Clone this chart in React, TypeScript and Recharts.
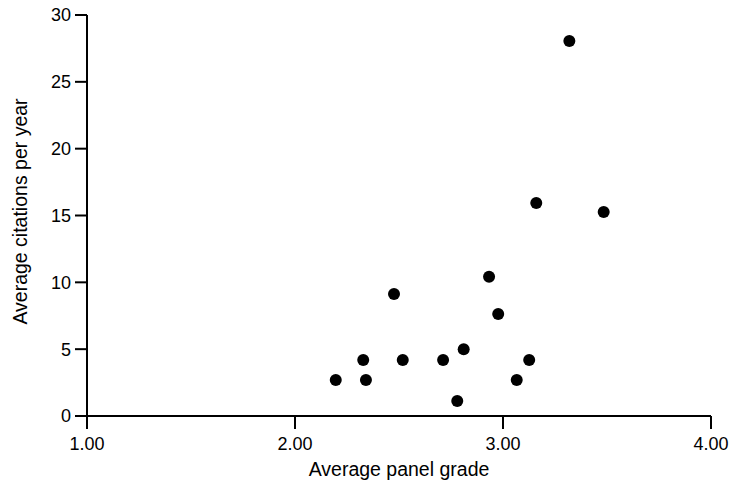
import { ScatterChart, Scatter, XAxis, YAxis, Label } from 'recharts'

// panel grade vs citations
const panelGrade = [2.196, 2.328, 2.341, 2.476, 2.518, 2.712, 2.78, 2.811, 2.933, 2.977, 3.066, 3.126, 3.16, 3.319, 3.484]
const citations = [2.69, 4.19, 2.69, 9.13, 4.19, 4.19, 1.12, 4.99, 10.42, 7.63, 2.69, 4.19, 15.94, 28.05, 15.26]

const xTicks = [1, 2, 3, 4]
const yTicks = [0, 5, 10, 15, 20, 25, 30]

const points = panelGrade.map((g, i) => ({ grade: g, cites: citations[i] }))

const FONT = '"Liberation Sans", Arial, sans-serif'

const Dot = (props: { cx?: number; cy?: number }) => {
  if (props.cx === undefined || props.cy === undefined) return null
  return <circle cx={props.cx} cy={props.cy} r={6} fill="#000" />
}

export default function App() {
  return (
    <div style={{ position: 'absolute', left: 0, top: 0, width: 729, height: 481, background: '#fff' }}>
      <ScatterChart
        width={729}
        height={481}
        margin={{ top: 15, right: 18, bottom: 0, left: 0 }}
        style={{ fontFamily: FONT }}
      >
        <XAxis
          type="number"
          dataKey="grade"
          domain={[1, 4]}
          ticks={xTicks}
          tickFormatter={(v: number) => v.toFixed(2)}
          height={65}
          tickSize={13}
          tickMargin={8}
          tick={{ fill: '#000', fontSize: 18 }}
          tickLine={{ stroke: '#000', strokeWidth: 2 }}
          axisLine={{ stroke: '#000', strokeWidth: 2 }}
        >
          <Label value="Average panel grade" position="insideBottom" offset={5} fill="#000" fontSize={19.5} />
        </XAxis>
        <YAxis
          type="number"
          dataKey="cites"
          domain={[0, 30]}
          ticks={yTicks}
          width={87}
          tickSize={12}
          tickMargin={4}
          tick={{ fill: '#000', fontSize: 18 }}
          tickLine={{ stroke: '#000', strokeWidth: 2 }}
          axisLine={{ stroke: '#000', strokeWidth: 2 }}
        >
          <Label value="Average citations per year" angle={-90} position="insideLeft" offset={20} dy={-4} fill="#000" fontSize={19.5} style={{ textAnchor: 'middle' }} />
        </YAxis>
        <Scatter data={points} fill="#000" shape={<Dot />} isAnimationActive={false} />
      </ScatterChart>
    </div>
  )
}
